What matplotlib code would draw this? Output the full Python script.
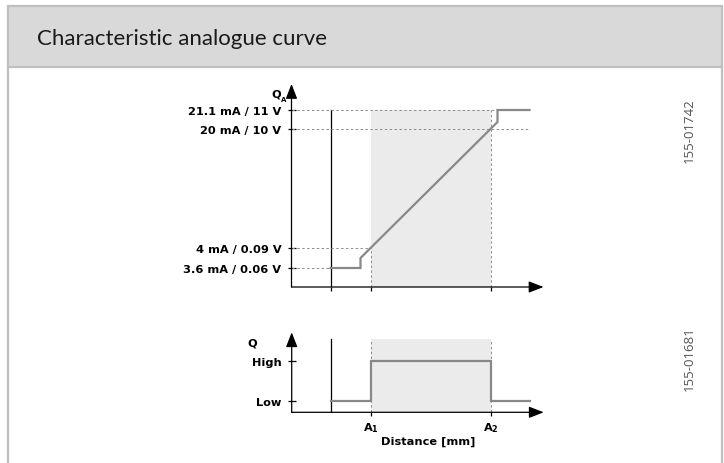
import matplotlib
matplotlib.use("Agg")
import matplotlib.pyplot as plt
from matplotlib.patches import Rectangle
from matplotlib.lines import Line2D

plt.rcParams['font.family'] = ['DejaVu Sans']
plt.rcParams['mathtext.fontset'] = 'custom'
plt.rcParams['mathtext.rm'] = 'DejaVu Sans:bold'
plt.rcParams['mathtext.bf'] = 'DejaVu Sans:bold'
plt.rcParams['mathtext.it'] = 'DejaVu Sans:bold'

# --- data (schematic units along distance / output) ---
title = "Characteristic analogue curve"
drawing_ids = ["155-01742", "155-01681"]

x_blind = 3.9          # end of blind zone (solid black line)
x_a1, x_a2 = 7.9, 19.9  # switching points A1 / A2
x_end = 25.2           # arrow tip of distance axis

analog_labels = ["3.6 mA / 0.06 V", "4 mA / 0.09 V", "20 mA / 10 V", "21.1 mA / 11 V"]
analog_levels = [1.9, 3.9, 15.8, 17.7]
analog_x = [3.9, 6.9, 6.9, 20.6, 20.6, 23.8]
analog_y = [1.9, 1.9, 2.9, 16.5, 17.7, 17.7]

switch_labels = ["Low", "High"]
switch_levels = [1.1, 5.15]
switch_x = [3.9, 7.9, 7.9, 19.9, 19.9, 23.8]
switch_y = [1.1, 1.1, 5.15, 5.15, 1.1, 1.1]
switch_top = 7.33

W, H = 724, 464
LBL = dict(fontsize=8.2, fontweight='bold')
CURVE = '#888888'
SHADE = '#ebebeb'
DOT = dict(color='#8c8c8c', lw=0.7, ls=(0, (2.5, 2.5)))

fig = plt.figure(figsize=(W / 100, H / 100), dpi=100)


def px_axes(x0, y0, xmax, ymax):
    # axes whose data origin sits at pixel (x0, y0), 10 px per unit
    ax = fig.add_axes([x0 / W, (H - y0) / H, xmax * 10 / W, ymax * 10 / H])
    ax.set_xlim(0, xmax)
    ax.set_ylim(0, ymax)
    for s in ax.spines.values():
        s.set_visible(False)
    ax.patch.set_alpha(0)
    return ax


def draw_axes_arrows(ax, ytop):
    arw = dict(arrowstyle='-|>,head_length=0.9,head_width=0.35', color='black',
               lw=0.9, shrinkA=0, shrinkB=0, mutation_scale=10)
    ax.annotate('', xy=(x_end, 0), xytext=(0, 0), arrowprops=arw, annotation_clip=False)
    ax.annotate('', xy=(0, ytop), xytext=(0, 0), arrowprops=arw, annotation_clip=False)


# frame and header band
fig.add_artist(Rectangle((8 / W, (H - 68) / H), 714 / W, 61 / H, transform=fig.transFigure,
                         facecolor='#d9d9d9', edgecolor='#bfbfbf', lw=1.6))
for xp in (8, 722):
    fig.add_artist(Line2D([xp / W, xp / W], [0, (H - 68) / H], transform=fig.transFigure,
                          color='#bfbfbf', lw=1.6))
fig.text(37 / W, (H - 39) / H, title, fontsize=16, family=['Lato', 'DejaVu Sans'],
         va='center', ha='left', color='#1a1a1a')

# --- top: analogue output ---
ax1 = px_axes(291.5, 288, 26, 21)
ax1.fill_between([x_a1, x_a2], 0, analog_levels[3], color=SHADE, lw=0, zorder=0)
ax1.plot([x_blind, x_blind], [0, analog_levels[3]], color='black', lw=0.9)
ax1.plot([0, 23.6], [analog_levels[3]] * 2, **DOT)
ax1.plot([0, 23.6], [analog_levels[2]] * 2, **DOT)
ax1.plot([0, x_a1], [analog_levels[1]] * 2, **DOT)
ax1.plot([0, x_blind], [analog_levels[0]] * 2, **DOT)
ax1.plot([x_a1, x_a1], [0, analog_levels[1]], **DOT)
ax1.plot([x_a2, x_a2], [0, analog_levels[3]], **DOT)
ax1.plot(analog_x, analog_y, color=CURVE, lw=1.6, solid_joinstyle='miter')
draw_axes_arrows(ax1, 20.3)
ax1.set_yticks(analog_levels, analog_labels, **LBL)
ax1.set_xticks([x_blind, x_a1, x_a2], [])
ax1.tick_params(axis='y', direction='inout', length=6, width=0.9, pad=4.3)
ax1.tick_params(axis='x', direction='out', length=3, width=0.9)
ax1.text(-1.55, 19.4, "Q", ha='center', va='center', **LBL)
ax1.text(-0.8, 18.8, "A", ha='center', va='center', fontsize=5, fontweight='bold')

# --- bottom: switching output ---
ax2 = px_axes(291.7, 413.3, 26, 9)
ax2.fill_between([x_a1, x_a2], 0, switch_top, color=SHADE, lw=0, zorder=0)
ax2.plot([x_blind, x_blind], [0, switch_top], color='black', lw=0.9)
ax2.plot([x_a1, x_a1], [0, switch_top], **DOT)
ax2.plot([x_a2, x_a2], [0, switch_top], **DOT)
ax2.plot(switch_x, switch_y, color=CURVE, lw=1.6, solid_joinstyle='miter')
draw_axes_arrows(ax2, 8.0)
ax2.set_yticks(switch_levels, switch_labels, **LBL)
ax2.set_xticks([x_a1, x_a2], [r"A$_1$", r"A$_2$"], **LBL)
ax2.tick_params(axis='y', direction='inout', length=6, width=0.9, pad=4.3)
ax2.tick_params(axis='x', direction='out', length=3, width=0.9, pad=2.5)
ax2.text(-3.95, 6.95, "Q", ha='center', va='center', **LBL)
ax2.text((x_a1 + x_a2) / 2 - 0.3, -2.85, "Distance [mm]", ha='center', va='center', **LBL)

# drawing numbers on the right
for yp, s in zip((131, 359), drawing_ids):
    fig.text(689 / W, (H - yp) / H, s, rotation=90, ha='center', va='center',
             fontsize=9.5, color='#555555', family=['Open Sans', 'DejaVu Sans'])

fig.savefig("out.png", dpi=100)
